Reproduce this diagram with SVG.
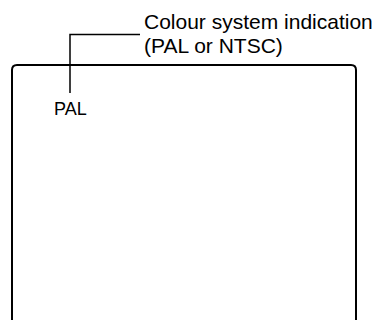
<svg xmlns="http://www.w3.org/2000/svg" width="382" height="320" viewBox="0 0 382 320">
<style>
.t{font-family:"Liberation Sans",Arial,sans-serif;fill:#000}
.ln{fill:none;stroke:#000;stroke-width:1.5}
.fr{fill:none;stroke:#000;stroke-width:2}
</style>
<rect width="382" height="320" fill="#fff"/>
<g id="screen">
<path class="fr" d="M12,330 V70 Q12,65 17,65 H351 Q356,65 356,70 V330"/>
<text class="t" x="54" y="115" font-size="18">PAL</text>
</g>
<g id="label">
<text class="t" x="144" y="29" font-size="21">Colour system indication</text>
<text class="t" x="144" y="53" font-size="21">(PAL or NTSC)</text>
</g>
<g id="connectors">
<path class="ln" d="M140,34.5 H70 V93"/>
</g>
</svg>
